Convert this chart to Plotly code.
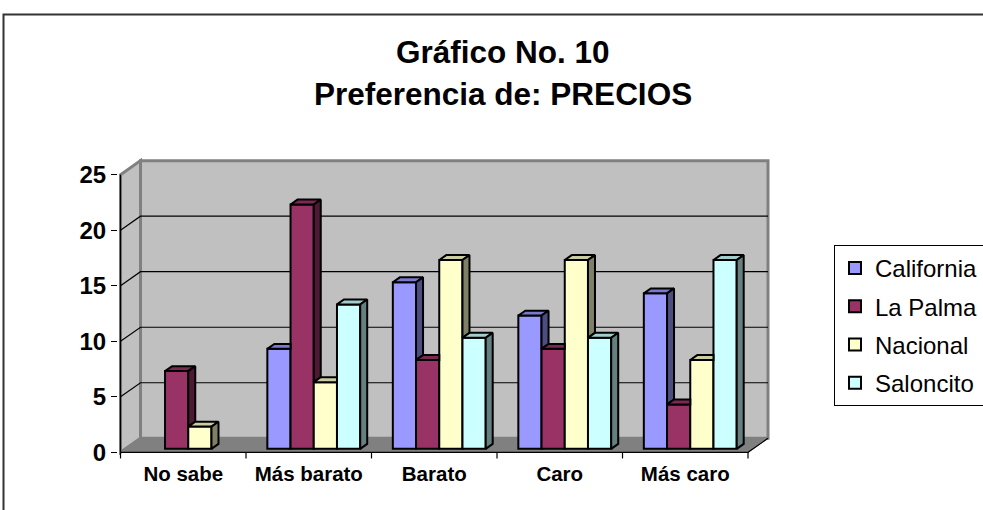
import plotly.graph_objects as go

# ---------------- data ----------------
categories = ["No sabe", "Más barato", "Barato", "Caro", "Más caro"]
series_names = ["California", "La Palma", "Nacional", "Saloncito"]
california = [0, 9, 15, 12, 14]
la_palma = [7, 22, 8, 9, 4]
nacional = [2, 6, 17, 17, 8]
saloncito = [0, 13, 10, 10, 17]
y_ticks = [0, 5, 10, 15, 20, 25]

# ---------------- styles ----------------
front_colors = ["#9999FF", "#993366", "#FFFFCC", "#CCFFFF"]
top_colors = ["#7A7ACC", "#7A2952", "#CCCCA3", "#A3CCCC"]
side_colors = ["#4D4D80", "#4D1A33", "#808066", "#668080"]
FONT = "Liberation Sans, Arial, sans-serif"

values = [california, la_palma, nacional, saloncito]
n_cat = len(categories)
n_ser = len(series_names)

# 3D geometry in data units
DX, DY = 20 / 125.5, 14 / 11.08      # full depth of the floor
f_front, f_depth = 0.25, 0.35         # bar front position & bar depth (fractions of full depth)
bx, by = f_front * DX, f_front * DY
ddx, ddy = f_depth * DX, f_depth * DY
w = 0.185                             # bar width
YMAX = max(y_ticks)

x_min, x_max = -0.52, -0.52 + 653 / 125.5
y_min, y_max = -0.6, 26.5

# pixel helpers
ML, MT, PW, PH = 118, 158, 653, 301
def px(X):
    return (X - ML) / PW
def py(Y):
    return (MT + PH - Y) / PH

fig = go.Figure()

# front faces (bars)
for j in range(n_ser):
    fig.add_trace(go.Bar(
        x=list(range(n_cat)), y=[v if v > 0 else None for v in values[j]], base=by,
        width=w, offset=-2 * w + j * w + bx,
        name=series_names[j], legendgroup=series_names[j],
        marker=dict(color=front_colors[j], line=dict(color="black", width=2)),
        hoverinfo="skip",
    ))

# side and top faces
for i in range(n_cat):
    for j in range(n_ser):
        v = values[j][i]
        if v <= 0:
            continue
        xl = i - 2 * w + j * w + bx
        xr = xl + w
        top = by + v
        nxt = values[j + 1][i] if j + 1 < n_ser else 0
        # top face
        if nxt > v:
            tx = [xl, xr, xr, xl + ddx, xl]
        else:
            tx = [xl, xr, xr + ddx, xl + ddx, xl]
        ty = [top, top, top + ddy, top + ddy, top]
        fig.add_trace(go.Scatter(x=tx, y=ty, mode="lines", fill="toself",
                                 fillcolor=top_colors[j], line=dict(color="black", width=2),
                                 showlegend=False, hoverinfo="skip"))
        # side face
        if nxt >= v:
            continue
        if nxt > 0:
            vn = by + nxt
            sy = [vn, vn + ddy, top + ddy, top, vn]
        else:
            sy = [by, by + ddy, top + ddy, top, by]
        sx = [xr, xr + ddx, xr + ddx, xr, xr]
        fig.add_trace(go.Scatter(x=sx, y=sy, mode="lines", fill="toself",
                                 fillcolor=side_colors[j], line=dict(color="black", width=2),
                                 showlegend=False, hoverinfo="skip"))

# front floor edge and category boundary ticks
tick_x, tick_y = [], []
for k in range(n_cat + 1):
    tick_x += [k - 0.5, k - 0.5, None]
    tick_y += [0, -0.55, None]
fig.add_trace(go.Scatter(x=tick_x, y=tick_y, mode="lines",
                         line=dict(color="black", width=1.2), showlegend=False, hoverinfo="skip"))
fig.add_trace(go.Scatter(x=[-0.5, n_cat - 0.5, n_cat - 0.5 + DX], y=[0, 0, DY], mode="lines",
                         line=dict(color="black", width=1.2), showlegend=False, hoverinfo="skip"))
# front y-axis line
fig.add_trace(go.Scatter(x=[-0.5, -0.5], y=[0, YMAX], mode="lines",
                         line=dict(color="black", width=1.2), showlegend=False, hoverinfo="skip"))

# walls / floor as background shapes
xl0, xr0 = -0.5, n_cat - 0.5
shapes = []
shapes.append(dict(type="path", layer="below", xref="x", yref="y",
                   path=f"M{xl0},0 L{xl0+DX},{DY} L{xl0+DX},{YMAX+DY} L{xl0},{YMAX} Z",
                   fillcolor="#C0C0C0", line=dict(color="#808080", width=3)))
shapes.append(dict(type="path", layer="below", xref="x", yref="y",
                   path=f"M{xl0+DX},{DY} L{xr0+DX},{DY} L{xr0+DX},{YMAX+DY} L{xl0+DX},{YMAX+DY} Z",
                   fillcolor="#C0C0C0", line=dict(color="#808080", width=3)))
shapes.append(dict(type="path", layer="below", xref="x", yref="y",
                   path=f"M{xl0},0 L{xr0},0 L{xr0+DX},{DY} L{xl0+DX},{DY} Z",
                   fillcolor="#808080", line=dict(color="#808080", width=1)))
for t in y_ticks[1:-1]:
    shapes.append(dict(type="path", layer="below", xref="x", yref="y",
                       path=f"M{xl0},{t} L{xl0+DX},{t+DY} L{xr0+DX},{t+DY}",
                       line=dict(color="black", width=1.2)))
# outer chart border
shapes.append(dict(type="rect", xref="paper", yref="paper",
                   x0=px(3.5), x1=2.0, y0=-1.0, y1=py(14.5),
                   line=dict(color="#333333", width=2), fillcolor="rgba(0,0,0,0)"))

annotations = [
    dict(text="<b>Gráfico No. 10</b>", xref="paper", yref="paper",
         x=px(503), y=py(52), xanchor="center", yanchor="middle",
         showarrow=False, font=dict(family=FONT, size=31.5, color="black")),
    dict(text="<b>Preferencia de: PRECIOS</b>", xref="paper", yref="paper",
         x=px(503), y=py(94), xanchor="center", yanchor="middle",
         showarrow=False, font=dict(family=FONT, size=31.5, color="black")),
]

fig.update_layout(
    width=983, height=510,
    margin=dict(l=ML, r=983 - ML - PW, t=MT, b=510 - MT - PH, autoexpand=False),
    paper_bgcolor="white", plot_bgcolor="white",
    barmode="overlay",
    shapes=shapes, annotations=annotations,
    showlegend=True,
    legend=dict(x=px(834), y=py(245), xanchor="left", yanchor="top",
                bordercolor="black", borderwidth=1, bgcolor="white",
                font=dict(family=FONT, size=24, color="black"),
                tracegroupgap=4, itemclick=False, itemdoubleclick=False),
    xaxis=dict(range=[x_min, x_max], showgrid=False, zeroline=False, showline=False,
               tickmode="array", tickvals=list(range(n_cat)), ticktext=categories,
               ticks="", tickfont=dict(family=FONT, size=20.5, color="black", weight="bold"),
               fixedrange=True),
    yaxis=dict(range=[y_min, y_max], showgrid=False, zeroline=False, showline=False,
               tickmode="array", tickvals=y_ticks, ticktext=[str(t) for t in y_ticks],
               ticks="outside", ticklen=6, tickcolor="black", tickwidth=1.2,
               tickfont=dict(family=FONT, size=24, color="black", weight="bold"),
               fixedrange=True),
)

fig.write_html("out.html", config={"displayModeBar": False},
               post_script="document.body.style.margin='0';document.body.style.overflow='hidden';")
